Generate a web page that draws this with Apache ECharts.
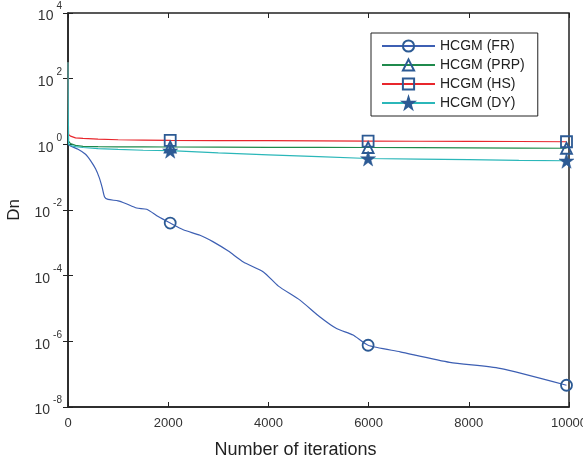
<!DOCTYPE html>
<html>
<head>
<meta charset="utf-8">
<script src="https://cdn.jsdelivr.net/npm/echarts@6/dist/echarts.min.js"></script>
<style>
html, body { margin: 0; padding: 0; background: #fff; }
#chart { width: 583px; height: 465px; }
</style>
</head>
<body>
<div id="chart"></div>
<script>
// iterations where the curves were sampled
var itersFR = [0, 50, 200, 350, 450, 550, 620, 680, 730, 800, 1000, 1150, 1370, 1570, 1800, 2040,
    2300, 2635, 2900, 3200, 3500, 3900, 4200, 4630, 5030, 5360, 5690, 5990, 6630, 7620, 8620, 9950];
var dnFR = [1.0, 0.89, 0.71, 0.5, 0.32, 0.18, 0.1, 0.05, 0.025, 0.021, 0.019, 0.0158, 0.0115, 0.0105, 0.0063, 0.004,
    0.0025, 0.0017, 0.00107, 5.6e-4, 2.6e-4, 1.3e-4, 4.8e-5, 1.8e-5, 5.5e-6, 2.45e-6, 1.55e-6, 7.6e-7, 4.8e-7, 2.3e-7, 1.5e-7, 4.6e-8];

var iters = [0, 10, 50, 150, 300, 600, 1000, 1500, 2040, 3000, 4000, 5000, 5990, 7000, 8000, 9000, 9950];
var dnPRP = [316, 1.26, 1.05, 0.93, 0.87, 0.85, 0.84, 0.835, 0.83, 0.82, 0.81, 0.81, 0.8, 0.79, 0.78, 0.77, 0.76];
var dnHS = [316, 2.0, 1.78, 1.58, 1.51, 1.45, 1.38, 1.35, 1.32, 1.3, 1.29, 1.27, 1.26, 1.24, 1.23, 1.22, 1.2];
var dnDY = [316, 1.0, 0.92, 0.85, 0.8, 0.74, 0.7, 0.66, 0.64, 0.55, 0.48, 0.42, 0.37, 0.355, 0.34, 0.325, 0.316];

// iterations carrying a marker
var markAt = [2040, 5990, 9950];

var names = ['HCGM (FR)', 'HCGM (PRP)', 'HCGM (HS)', 'HCGM (DY)'];
var xTicks = [0, 2000, 4000, 6000, 8000, 10000];

var markColor = '#2c5a94';
var starPath = 'path://M50,0 L61.8,35.3 L98.9,35.3 L68.9,57.1 L80.2,92.4 L50,70.6 L19.8,92.4 L31.1,57.1 L1.1,35.3 L38.2,35.3 Z';

function pts(xs, ys) {
    return xs.map(function (x, i) {
        if (markAt.indexOf(x) >= 0) return [x, ys[i]];
        return { value: [x, ys[i]], symbol: 'none' };
    });
}

function makeLine(name, xs, ys, color, symbol, size, filled, smooth) {
    return {
        name: name,
        type: 'line',
        data: pts(xs, ys),
        symbol: symbol,
        symbolSize: size,
        showAllSymbol: true,
        smooth: smooth,
        lineStyle: { color: color, width: 1.2 },
        itemStyle: {
            color: filled ? markColor : 'rgba(255,255,255,0)',
            borderColor: markColor,
            borderWidth: filled ? 0.5 : 1.8
        },
        emphasis: { disabled: true },
        animation: false
    };
}

var myChart = echarts.init(document.getElementById('chart'), null, { renderer: 'canvas' });

var option = {
    backgroundColor: '#fff',
    textStyle: { fontFamily: 'Liberation Sans, Arial, sans-serif' },
    grid: {
        left: 68, right: 14, top: 13, bottom: 58,
        containLabel: false, outerBoundsMode: 'none',
        show: true, borderColor: '#222', borderWidth: 1.5, backgroundColor: 'transparent'
    },
    legend: {
        orient: 'vertical',
        left: 371,
        top: 33,
        backgroundColor: '#fff',
        borderColor: '#222',
        borderWidth: 1,
        padding: [6, 13, 6, 10],
        itemGap: 5,
        itemWidth: 53,
        itemHeight: 14,
        textStyle: { fontSize: 14, color: '#222' },
        data: names
    },
    xAxis: [{
        type: 'value',
        min: 0, max: 10000, interval: 2000,
        name: 'Number of iterations',
        nameLocation: 'middle',
        nameGap: 34,
        nameTextStyle: { fontSize: 18, color: '#222', padding: [0, 46, 0, 0] },
        axisLine: { show: true, lineStyle: { color: '#222', width: 1.5 } },
        axisTick: { show: true, inside: true, length: 5, lineStyle: { color: '#222' } },
        axisLabel: { fontSize: 13, color: '#333', margin: 10,
            formatter: function (v) { return xTicks.indexOf(v) >= 0 ? String(v) : ''; } },
        splitLine: { show: false }
    }, {
        type: 'value', position: 'top',
        min: 0, max: 10000, interval: 2000,
        axisLine: { show: false },
        axisTick: { show: true, inside: true, length: 5, lineStyle: { color: '#222' } },
        axisLabel: { show: false },
        splitLine: { show: false }
    }],
    yAxis: [{
        type: 'log',
        logBase: 10,
        min: 1e-8, max: 1e4, interval: 2,
        name: 'Dn',
        nameLocation: 'middle',
        nameGap: 45,
        nameTextStyle: { fontSize: 17, color: '#222' },
        axisLine: { show: true, lineStyle: { color: '#222', width: 1.5 } },
        axisTick: { show: true, inside: true, length: 5, lineStyle: { color: '#222' } },
        axisLabel: {
            margin: 6,
            padding: [7, 0, 0, 0],
            formatter: function (v) {
                var e = Math.round(Math.log10(v));
                return '{b|10}{e|' + e + '}';
            },
            rich: {
                b: { fontSize: 14, lineHeight: 14, color: '#333', verticalAlign: 'bottom' },
                e: { fontSize: 10, lineHeight: 10, color: '#333', verticalAlign: 'bottom', padding: [0, 0, 12, 3] }
            }
        },
        splitLine: { show: false }
    }, {
        type: 'log', position: 'right',
        logBase: 10,
        min: 1e-8, max: 1e4, interval: 2,
        axisLine: { show: false },
        axisTick: { show: true, inside: true, length: 5, lineStyle: { color: '#222' } },
        axisLabel: { show: false },
        splitLine: { show: false }
    }],
    series: [
        makeLine(names[0], itersFR, dnFR, '#3d5fb3', 'circle', 11, false, 0.2),
        makeLine(names[1], iters, dnPRP, '#1f8a4c', 'triangle', 11, false, false),
        makeLine(names[2], iters, dnHS, '#e8262c', 'rect', 11, false, false),
        makeLine(names[3], iters, dnDY, '#2bb7b9', starPath, 15, true, false)
    ]
};

myChart.setOption(option);
</script>
</body>
</html>
